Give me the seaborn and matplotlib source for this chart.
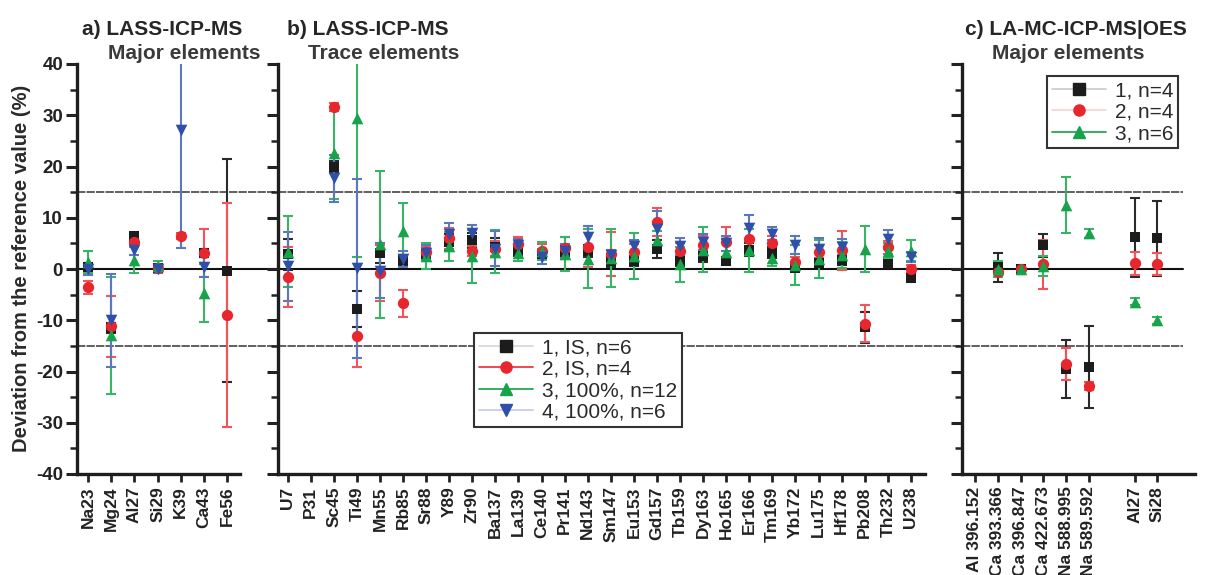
import numpy as np
import pandas as pd
import matplotlib
matplotlib.use("Agg")
import matplotlib.pyplot as plt
import seaborn as sns
from matplotlib.lines import Line2D
from matplotlib.ticker import MultipleLocator

nan = np.nan

# ---------------- data ----------------
# a) LASS-ICP-MS, major elements
cats_a = ["Na23", "Mg24", "Al27", "Si29", "K39", "Ca43", "Fe56"]
a1_val = [0.3, -11.5, 6.5, 0.2, nan, 3.2, -0.3]
a1_err = [0.8, 1.0, 0.6, 0.5, nan, 0.8, 21.7]
a2_val = [-3.6, -11.2, 5.2, 0.2, 6.4, 3.1, -9.0]
a2_err = [1.3, 6.0, 0.8, 0.5, 0.6, 4.7, 21.8]
a3_val = [1.4, -12.9, 1.8, 0.6, nan, -4.7, nan]
a3_err = [2.2, 11.4, 2.5, 1.0, nan, 5.6, nan]
a4_val = [0.0, -10.0, 3.8, 0.0, 27.2, 0.4, nan]
a4_err = [1.2, 9.1, 1.0, 0.8, 23.1, 1.9, nan]

# b) LASS-ICP-MS, trace elements
cats_b = ["U7", "P31", "Sc45", "Ti49", "Mn55", "Rb85", "Sr88", "Y89", "Zr90",
          "Ba137", "La139", "Ce140", "Pr141", "Nd143", "Sm147", "Eu153",
          "Gd157", "Tb159", "Dy163", "Ho165", "Er166", "Tm169", "Yb172",
          "Lu175", "Hf178", "Pb208", "Th232", "U238"]
b1_val = [2.9, nan, 19.9, -7.8, 3.1, 1.8, 3.0, 5.3, 5.6, 4.2, 3.6, 3.0, 3.4, 3.5,
          1.6, 1.5, 3.9, 1.5, 2.6, 1.6, 3.8, 3.2, 0.2, 1.2, 1.8, -11.4, 0.9, -1.8]
b1_err = [3.0, nan, 1.2, 3.6, 2.0, 1.0, 0.8, 1.5, 1.5, 1.8, 1.0, 1.0, 1.0, 1.2,
          1.2, 1.0, 1.8, 1.0, 1.2, 0.8, 1.2, 1.0, 0.6, 0.8, 1.0, 3.0, 0.8, 0.8]
b2_val = [-1.6, nan, 31.6, -13.1, -0.8, -6.7, 3.3, 6.0, 3.5, 4.0, 4.8, 3.6, 4.1, 4.3,
          2.9, 3.3, 9.2, 3.6, 4.6, 5.2, 5.8, 5.0, 1.4, 3.4, 3.7, -10.7, 4.2, 0.0]
b2_err = [5.8, nan, 0.8, 6.0, 5.5, 2.7, 1.0, 2.0, 1.0, 1.5, 1.5, 1.2, 2.2, 4.0,
          4.3, 1.5, 2.8, 1.5, 1.8, 3.0, 2.0, 1.5, 1.0, 1.2, 3.8, 3.6, 1.2, 0.8]
b3_val = [3.4, nan, 22.7, 29.4, 4.8, 7.5, 2.5, 4.4, 2.5, 3.4, 3.1, 3.5, 3.0, 2.0,
          2.1, 2.5, 5.6, 0.9, 3.8, 3.4, 3.7, 2.1, 0.8, 1.9, 2.7, 3.9, 3.6, 3.6]
b3_err = [7.0, nan, 9.0, 27.0, 14.3, 5.4, 2.5, 2.8, 5.2, 4.2, 1.5, 1.8, 3.3, 5.8,
          5.7, 4.5, 1.8, 3.4, 4.4, 2.5, 4.2, 1.5, 3.9, 3.7, 2.5, 4.4, 1.5, 2.0]
b4_val = [0.5, nan, 17.7, 0.1, -0.3, 1.9, 3.2, 6.8, 7.0, 4.0, 4.6, 2.4, 3.6, 6.3,
          2.7, 4.4, 7.9, 4.4, 5.3, 5.0, 8.0, 6.9, 4.7, 4.0, 4.3, nan, 5.8, 2.4]
b4_err = [6.8, nan, 4.6, 17.4, 5.3, 1.6, 1.5, 2.2, 1.6, 3.5, 1.2, 1.5, 1.2, 2.0,
          1.0, 1.2, 3.5, 1.6, 1.5, 1.5, 2.5, 1.2, 1.7, 2.0, 1.5, nan, 1.8, 1.0]

# c) LA-MC-ICP-MS|OES, major elements (OES lines, then MC-ICP-MS isotopes)
cats_c_oes = ["Al 396.152", "Ca 393.366", "Ca 396.847", "Ca 422.673",
              "Na 588.995", "Na 589.592"]
cats_c_ms = ["Al27", "Si28"]
c1_val = [nan, 0.3, 0.0, 4.6, -19.5, -19.2, 6.2, 6.0]
c1_err = [nan, 2.8, 0.4, 2.3, 5.7, 8.0, 7.7, 7.3]
c2_val = [nan, -0.5, 0.0, 0.9, -18.6, -22.9, 1.1, 1.0]
c2_err = [nan, 1.0, 0.5, 4.8, 3.1, 0.8, 2.3, 2.2]
c3_val = [nan, 0.0, 0.0, 0.6, 12.5, 7.0, -6.4, -10.0]
c3_err = [nan, 1.6, 0.5, 2.0, 5.5, 0.9, 0.7, 0.7]

labels_ab = ["1, IS, n=6", "2, IS, n=4", "3, 100%, n=12", "4, 100%, n=6"]
labels_c = ["1, n=4", "2, n=4", "3, n=6"]

# ---------------- style ----------------
sns.set_theme(style="ticks")
plt.rcParams["font.family"] = ["Liberation Sans", "DejaVu Sans"]
plt.rcParams["axes.unicode_minus"] = False

INK = "#222222"
STYLES = [  # marker, face colour, error-bar colour, size
    dict(marker="s", color="#1c1c1c", ecolor="#2a2a2a", s=50),
    dict(marker="o", color="#e8262d", ecolor="#f2545a", s=66),
    dict(marker="^", color="#16a34a", ecolor="#38b466", s=70),
    dict(marker="v", color="#2f4fa8", ecolor="#5a78bb", s=70),
]

W, H = 1207, 575
fig = plt.figure(figsize=(W / 100, H / 100), dpi=100)
BOT, TOP = 101, 511  # axes bottom/top in pixels from figure bottom


def make_axes(left, right):
    return fig.add_axes([left / W, BOT / H, (right - left) / W, (TOP - BOT) / H])


def draw_series(ax, pos, vals, errs, st):
    pos = np.asarray(pos, dtype=float)
    vals = np.asarray(vals, dtype=float)
    errs = np.asarray(errs, dtype=float)
    ok = ~np.isnan(vals)
    ax.errorbar(pos[ok], vals[ok], yerr=errs[ok], fmt="none", ecolor=st["ecolor"],
                elinewidth=1.5, capsize=3.6, capthick=1.5, zorder=3)
    df = pd.DataFrame({"pos": pos[ok], "dev": vals[ok]})
    sns.scatterplot(data=df, x="pos", y="dev", marker=st["marker"], color=st["color"],
                    s=st["s"], linewidth=0, ax=ax, zorder=4, legend=False)


def style_axes(ax, pos, cats, xlim, spine_end, show_ylabels, hline_xmax=1.0):
    ax.set_ylim(-40, 40)
    ax.set_xlim(*xlim)
    ax.axhline(0, color="#111111", lw=1.5, xmax=hline_xmax, zorder=2)
    for yv in (15, -15):
        ax.axhline(yv, color="#444444", lw=1.2, ls=(0, (5, 0.7)), xmax=hline_xmax, zorder=1)
    ax.yaxis.set_major_locator(MultipleLocator(10))
    ax.yaxis.set_minor_locator(MultipleLocator(5))
    ax.set_xticks(pos)
    ax.set_xticklabels(cats, rotation=90, fontsize=12.5, fontweight="bold", color=INK)
    ax.tick_params(axis="x", which="major", direction="out", length=6, width=2,
                   color="#222222", pad=3)
    ax.tick_params(axis="y", which="major", direction="out", length=8, width=2.2,
                   color="#222222", labelleft=show_ylabels, labelsize=13.5,
                   labelcolor=INK, pad=2)
    ax.tick_params(axis="y", which="minor", direction="out", length=5, width=1.8,
                   color="#222222")
    if show_ylabels:
        for t in ax.get_yticklabels():
            t.set_fontweight("bold")
    for side in ("top", "right"):
        ax.spines[side].set_visible(False)
    for side in ("left", "bottom"):
        ax.spines[side].set_linewidth(2.4)
        ax.spines[side].set_color("#1e1e1e")
    ax.spines["bottom"].set_bounds(xlim[0], spine_end)
    ax.spines["left"].set_bounds(-40, 40)
    ax.set_xlabel("")
    ax.set_ylabel("")
    ax.grid(False)
    ax.patch.set_alpha(0)


# ---- panel a ----
ax_a = make_axes(77, 277)
pos_a = np.arange(len(cats_a))
for v, e, st in zip([a1_val, a2_val, a3_val, a4_val], [a1_err, a2_err, a3_err, a4_err], STYLES):
    draw_series(ax_a, pos_a, v, e, st)
style_axes(ax_a, pos_a, cats_a, (-0.474, 8.147), 6.55, True)

# ---- panel b ----
ax_b = make_axes(278, 960)
pos_b = np.arange(len(cats_b))
for v, e, st in zip([b1_val, b2_val, b3_val, b4_val], [b1_err, b2_err, b3_err, b4_err], STYLES):
    draw_series(ax_b, pos_b, v, e, st)
style_axes(ax_b, pos_b, cats_b, (-0.42, 29.13), 27.6, False)

# ---- panel c ----
ax_c = make_axes(962, 1195)
pos_c = np.concatenate([np.arange(len(cats_c_oes)),
                        len(cats_c_oes) + 1 + np.arange(len(cats_c_ms))])
cats_c = cats_c_oes + cats_c_ms
for v, e, st in zip([c1_val, c2_val, c3_val], [c1_err, c2_err, c3_err], STYLES):
    draw_series(ax_c, pos_c, v, e, st)
style_axes(ax_c, pos_c, cats_c, (-0.57, 9.65), 9.65, False,
           hline_xmax=(1183 - 962) / (1195 - 962))

# ---- titles ----
def ptext(x, y, s, **kw):
    fig.text(x / W, 1 - y / H, s, ha="left", va="baseline", fontsize=15,
             fontweight="bold", color=kw.pop("color", "#262626"), **kw)

ptext(82, 35, "a) LASS-ICP-MS")
ptext(108, 59, "Major elements", color="#3a3a3a")
ptext(287, 35, "b) LASS-ICP-MS")
ptext(308, 59, "Trace elements", color="#3a3a3a")
ptext(965, 35, "c) LA-MC-ICP-MS|OES")
ptext(992, 59, "Major elements", color="#3a3a3a")

fig.text(22 / W, 1 - 268 / H, "Deviation from the reference value (%)", rotation=90,
         ha="center", va="center", fontsize=14.5, fontweight="bold", color="#2a2a2a")

# ---- legends ----
def handle(st, line_color):
    return Line2D([0], [0], color=line_color, lw=1.3, marker=st["marker"],
                  markersize=8, markerfacecolor=st["color"], markeredgecolor=st["color"])

leg_lines_ab = ["#d9d9d9", "#ee3a40", "#22aa55", "#c9cdea"]
leg_b = fig.legend([handle(st, lc) for st, lc in zip(STYLES, leg_lines_ab)], labels_ab,
                   loc="upper left", bbox_to_anchor=(474 / W, 1 - 333 / H),
                   fontsize=15, handlelength=2.6, labelspacing=0.12, borderpad=0.25,
                   handletextpad=0.4, borderaxespad=0, fancybox=False, framealpha=1,
                   edgecolor="#333333", labelcolor="#2a2a2a")
leg_b.get_frame().set_linewidth(1.5)

leg_lines_c = ["#cfcfcf", "#f8d6d6", "#22aa55"]
leg_c = fig.legend([handle(st, lc) for st, lc in zip(STYLES[:3], leg_lines_c)], labels_c,
                   loc="upper left", bbox_to_anchor=(1047 / W, 1 - 76 / H),
                   fontsize=15, handlelength=2.6, labelspacing=0.12, borderpad=0.25,
                   handletextpad=0.4, borderaxespad=0, fancybox=False, framealpha=1,
                   edgecolor="#333333", labelcolor="#2a2a2a")
leg_c.get_frame().set_linewidth(1.5)

fig.savefig("out.png", dpi=100)
